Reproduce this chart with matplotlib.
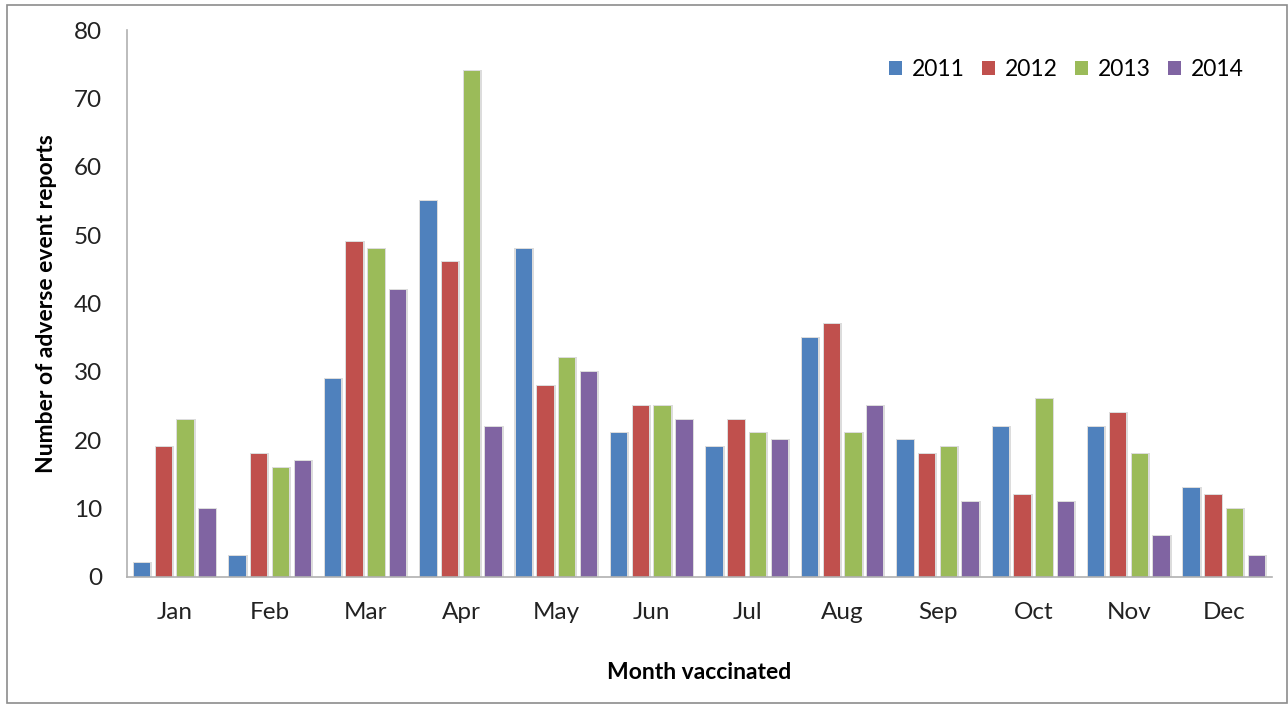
import numpy as np
import matplotlib.pyplot as plt
from matplotlib.patches import Rectangle

# Monthly adverse event report counts per year
months = ["Jan", "Feb", "Mar", "Apr", "May", "Jun",
          "Jul", "Aug", "Sep", "Oct", "Nov", "Dec"]
years = ["2011", "2012", "2013", "2014"]
r2011 = [2, 3, 29, 55, 48, 21, 19, 35, 20, 22, 22, 13]
r2012 = [19, 18, 49, 46, 28, 25, 23, 37, 18, 12, 24, 12]
r2013 = [23, 16, 48, 74, 32, 25, 21, 21, 19, 26, 18, 10]
r2014 = [10, 17, 42, 22, 30, 23, 20, 25, 11, 11, 6, 3]

series = [r2011, r2012, r2013, r2014]
cores = ["#4F81BD", "#C0504D", "#9BBB59", "#8064A2"]

plt.rcParams['font.family'] = ['Lato', 'DejaVu Sans']

fig = plt.figure(figsize=(12.88, 7.05), dpi=100)
ax = fig.add_axes([0.0986, 0.1816, 0.889, 0.7758])

x = np.arange(len(months))
passo = 0.228
larg = 0.172
for i, (vals, cor) in enumerate(zip(series, cores)):
    pos = x - 1.5 * passo + i * passo
    # sombra clara atras das barras
    ax.bar(pos + 0.004, np.array(vals) + 0.15, width=larg + 0.03, color="#dcdcdc",
           zorder=1, linewidth=0)
    ax.bar(pos, vals, width=larg, color=cor, label=years[i], zorder=2, linewidth=0)

ax.set_xlim(-0.5, len(months) - 0.5)
ax.set_ylim(0, 80)
ax.set_yticks(range(0, 81, 10))
ax.set_xticks(x)
ax.set_xticklabels(months)
ax.tick_params(axis='both', length=0, labelsize=17.5, colors="#222222")
ax.tick_params(axis='y', pad=18)
ax.tick_params(axis='x', pad=18)

for lado in ["top", "right"]:
    ax.spines[lado].set_visible(False)
ax.spines["left"].set_color("#b0b0b0")
ax.spines["bottom"].set_color("#b0b0b0")
ax.spines["left"].set_linewidth(1.2)
ax.spines["bottom"].set_linewidth(1.2)

ax.set_xlabel("Month vaccinated", fontsize=16.5, fontweight="bold", labelpad=28)
ax.set_ylabel("Number of adverse event reports", fontsize=16.5, fontweight="bold", labelpad=12)

ax.legend(loc="upper right", bbox_to_anchor=(0.993, 0.985), ncol=4, frameon=False,
          fontsize=16.5, handlelength=0.6, handleheight=0.6, handletextpad=0.4,
          columnspacing=0.75)

# moldura cinza em volta da figura
fig.patches.append(Rectangle((0.0055, 0.003), 0.9935, 0.99, transform=fig.transFigure,
                             fill=False, edgecolor="#8c8c8c", linewidth=1.2))

fig.savefig("out.png", dpi=100)
